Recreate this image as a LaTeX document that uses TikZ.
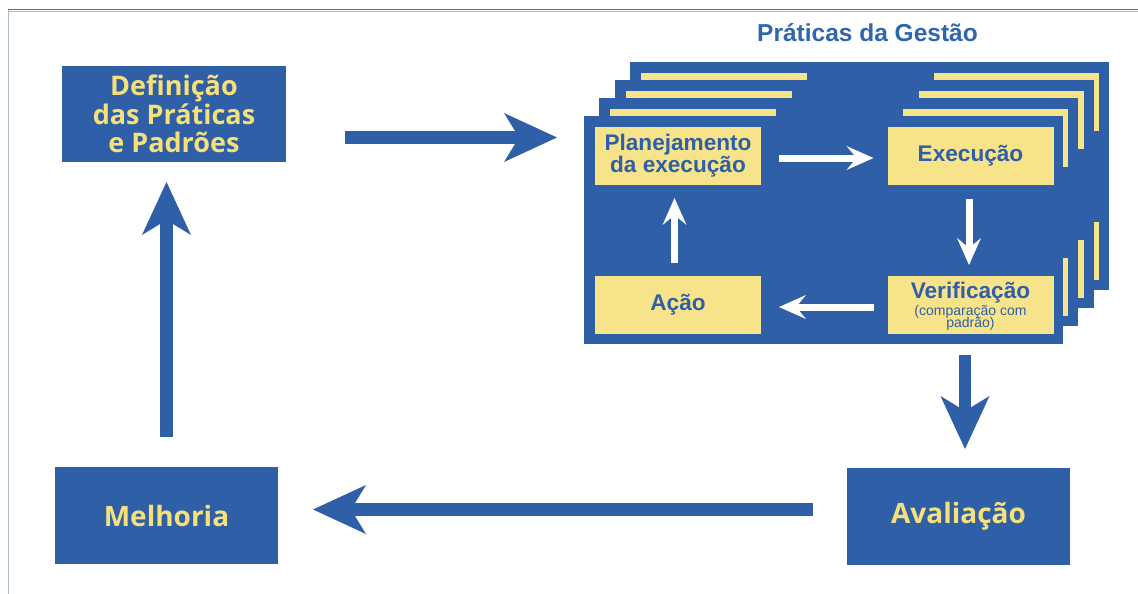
\documentclass[tikz,border=0pt]{standalone}
\usepackage{fontspec}
\setmainfont{Liberation Sans}
\newfontfamily\labelfont{Open Sans}
\usetikzlibrary{arrows.meta,calc}
\definecolor{cardblue}{HTML}{2F5FA6}
\definecolor{boxyellow}{HTML}{F7E389}
\definecolor{textyellow}{HTML}{F6E07A}
\definecolor{titleblue}{HTML}{2F66AE}
\definecolor{rulegray}{HTML}{AAB8D6}
\definecolor{ruleblue}{HTML}{4A6FAE}

\begin{document}
\begin{tikzpicture}[x=1pt,y=-1pt,
  bluebox/.style={fill=cardblue, draw=none, inner sep=0pt, outer sep=0pt,
    text=textyellow, align=center,
    font=\labelfont\bfseries\fontsize{27}{28.5}\selectfont},
  yellowbox/.style={fill=boxyellow, minimum width=166pt, minimum height=58pt,
    inner sep=0pt, outer sep=0pt, text=cardblue, align=center,
    font=\bfseries\fontsize{22.6}{22}\selectfont},
  boxtext/.style={inner sep=0pt, text=cardblue, align=center},
  bigarrow/.style={draw=cardblue, line width=12.5pt,
    -{Stealth[length=53pt,width=49pt,inset=15pt,line width=0pt]}},
  whitearrow/.style={draw=white, line width=7pt,
    -{Stealth[length=27pt,width=24pt,inset=10pt,line width=0pt]}},
]
\useasboundingbox (0,0) rectangle (1138,594);
\fill[white] (0,0) rectangle (1138,594);

% page frame
\draw[rulegray, line width=1pt] (8.5,10) -- (8.5,594);
\draw[ruleblue, line width=1.6pt] (8,9.6) -- (1138,9.6);
\draw[rulegray, line width=0.9pt] (8,11.4) -- (1138,11.4);

% title
\node[text=titleblue, font=\bfseries\fontsize{24.5}{24.5}\selectfont] (title) at (867.5,33) {Práticas da Gestão};

% stacked cards behind the front one
\foreach \k in {3,2,1} {
  \begin{scope}[shift={(15.3*\k,-18*\k)}]
    \fill[cardblue] (584,116) rectangle (1063,344);
    \fill[boxyellow] (595,127) rectangle (761,185);
    \fill[boxyellow] (888,127) rectangle (1053,185);
    \fill[boxyellow] (595,276) rectangle (761,334);
    \fill[boxyellow] (888,276) rectangle (1053,334);
  \end{scope}
}

% front card
\node[fill=cardblue, minimum width=479pt, minimum height=228pt, inner sep=0pt, outer sep=0pt] (front) at (823.5,230) {};
\node[yellowbox] (plan) at (678,156) {Planejamento\\da execução};
\node[yellowbox] (exec) at (970.5,156) {Execução};
\node[yellowbox] (acao) at (678,305) {Ação};
\node[yellowbox] (verif) at (970.5,305) {};
\node[boxtext, font=\bfseries\fontsize{22.6}{22}\selectfont] (veriftitle) at (970.5,293) {Verificação};
\node[boxtext, font=\fontsize{14}{14}\selectfont] (verifnote) at (970.5,318) {(comparação com\\[-2pt]padrão)};

% cycle arrows on the card
\draw[whitearrow, shorten <=18pt, shorten >=14pt] ($(plan.east)+(0,2)$) -- ($(exec.west)+(0,2)$);
\draw[whitearrow, shorten <=14pt, shorten >=11pt] ($(exec.south)+(-1.5,0)$) -- ($(verif.north)+(-1.5,0)$);
\draw[whitearrow, shorten <=14pt, shorten >=18pt] ($(verif.west)+(0,2)$) -- ($(acao.east)+(0,2)$);
\draw[whitearrow, shorten <=13pt, shorten >=13pt] ($(acao.north)+(-3.5,0)$) -- ($(plan.south)+(-3.5,0)$);

% outer boxes
\node[bluebox, minimum width=224pt, minimum height=96pt] (def) at (174,114) {Definição\\das Práticas\\e Padrões};
\node[bluebox, minimum width=223pt, minimum height=97pt, font=\labelfont\bfseries\fontsize{28}{28}\selectfont] (melh) at (166.5,515.5) {Melhoria};
\node[bluebox, minimum width=223pt, minimum height=97pt, font=\labelfont\bfseries\fontsize{28}{28}\selectfont] (aval) at (958.5,516.5) {Avaliação};

% outer cycle arrows
\draw[bigarrow, shorten <=59pt, shorten >=27pt] ($(def.east)+(0,23.5)$) -- ($(front.west |- def.east)+(0,23.5)$);
\draw[bigarrow, shorten <=11pt, shorten >=19pt] ($(front.south -| aval.north)+(6.5,0)$) -- ($(aval.north)+(6.5,0)$);
\draw[bigarrow, shorten <=34pt, shorten >=35pt] ($(aval.west)+(0,-7)$) -- ($(melh.east |- aval.west)+(0,-7)$);
\draw[bigarrow, shorten <=30pt, shorten >=20pt] (melh.north) -- (melh.north |- def.south);
\end{tikzpicture}
\end{document}
